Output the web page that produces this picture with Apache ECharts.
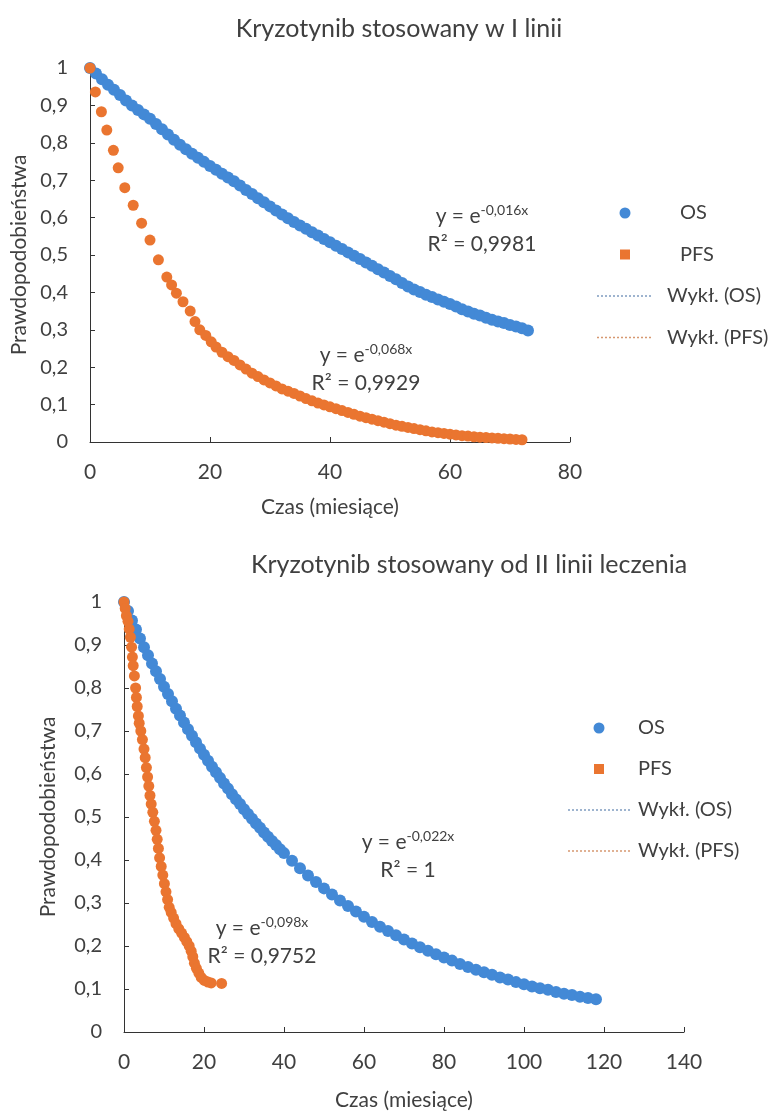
<!DOCTYPE html>
<html>
<head>
<meta charset="utf-8">
<script src="https://cdn.jsdelivr.net/npm/echarts@6/dist/echarts.min.js"></script>
<style>
  html, body { margin: 0; padding: 0; background: #fff; }
  #chart { width: 772px; height: 1113px; }
</style>
</head>
<body>
<div id="chart"></div>
<script>
// I linia - [miesiąc, prawdopodobieństwo]
var topOS = [
  [0, 1.000], [1, 0.985], [2, 0.970], [3, 0.955], [4, 0.942], [5, 0.928], [6, 0.913], [7, 0.900],
  [8, 0.888], [9, 0.876], [10, 0.864], [11, 0.850], [12, 0.836], [13, 0.822], [14, 0.808], [15, 0.795],
  [16, 0.783], [17, 0.771], [18, 0.760], [19, 0.749], [20, 0.738], [21, 0.728], [22, 0.717], [23, 0.707],
  [24, 0.697], [25, 0.686], [26, 0.674], [27, 0.663], [28, 0.652], [29, 0.641], [30, 0.630], [31, 0.619],
  [32, 0.608], [33, 0.598], [34, 0.588], [35, 0.579], [36, 0.570], [37, 0.561], [38, 0.552], [39, 0.543],
  [40, 0.534], [41, 0.525], [42, 0.516], [43, 0.507], [44, 0.498], [45, 0.489], [46, 0.480], [47, 0.471],
  [48, 0.462], [49, 0.453], [50, 0.444], [51, 0.435], [52, 0.425], [53, 0.416], [54, 0.408], [55, 0.401],
  [56, 0.394], [57, 0.388], [58, 0.381], [59, 0.375], [60, 0.369], [61, 0.362], [62, 0.355], [63, 0.349],
  [64, 0.343], [65, 0.338], [66, 0.332], [67, 0.327], [68, 0.322], [69, 0.318], [70, 0.313], [71, 0.309],
  [72, 0.304], [73, 0.298]
];
var topPFS = [
  [0, 1.000], [0.9, 0.936], [1.9, 0.883], [2.8, 0.834], [3.9, 0.780], [4.7, 0.733], [5.8, 0.680],
  [7.2, 0.633], [8.6, 0.585], [10, 0.540], [11.4, 0.487], [12.8, 0.441], [13.6, 0.420], [14.4, 0.398],
  [15.5, 0.375], [16.7, 0.350], [17.5, 0.322], [18.3, 0.300], [19.3, 0.285], [20.2, 0.268], [21, 0.254],
  [22, 0.240], [23, 0.228], [24, 0.218], [25, 0.206], [26, 0.195], [27, 0.184], [28, 0.175], [29, 0.166],
  [30, 0.158], [31, 0.150], [32, 0.142], [33, 0.136], [34, 0.130], [35, 0.123], [36, 0.116], [37, 0.110],
  [38, 0.104], [39, 0.099], [40, 0.094], [41, 0.089], [42, 0.084], [43, 0.079], [44, 0.074], [45, 0.069],
  [46, 0.065], [47, 0.061], [48, 0.057], [49, 0.053], [50, 0.049], [51, 0.045], [52, 0.042], [53, 0.039],
  [54, 0.036], [55, 0.033], [56, 0.030], [57, 0.027], [58, 0.025], [59, 0.023], [60, 0.021], [61, 0.019],
  [62, 0.017], [63, 0.016], [64, 0.014], [65, 0.013], [66, 0.012], [67, 0.011], [68, 0.010], [69, 0.009],
  [70, 0.008], [71, 0.007], [72, 0.006]
];

// od II linii
var botOS = [
  [0, 1.000], [1, 0.979], [2, 0.957], [3, 0.936], [4, 0.915], [5, 0.895], [6, 0.876], [7, 0.857],
  [8, 0.839], [9, 0.821], [10, 0.803], [11, 0.786], [12, 0.769], [13, 0.752], [14, 0.736], [15, 0.720],
  [16, 0.704], [17, 0.689], [18, 0.674], [19, 0.659], [20, 0.645], [21, 0.631], [22, 0.617], [23, 0.604],
  [24, 0.591], [25, 0.578], [26, 0.566], [27, 0.553], [28, 0.541], [29, 0.530], [30, 0.518], [31, 0.507],
  [32, 0.496], [33, 0.485], [34, 0.475], [35, 0.464], [36, 0.454], [37, 0.444], [38, 0.435], [39, 0.425],
  [40, 0.416], [42, 0.398], [44, 0.381], [46, 0.364], [48, 0.349], [50, 0.334], [52, 0.320], [54, 0.306],
  [56, 0.293], [58, 0.280], [60, 0.268], [62, 0.256], [64, 0.245], [66, 0.235], [68, 0.225], [70, 0.215],
  [72, 0.206], [74, 0.197], [76, 0.189], [78, 0.181], [80, 0.173], [82, 0.166], [84, 0.158], [86, 0.151],
  [88, 0.145], [90, 0.139], [92, 0.133], [94, 0.127], [96, 0.122], [98, 0.116], [100, 0.111], [102, 0.106],
  [104, 0.102], [106, 0.098], [108, 0.093], [110, 0.089], [112, 0.086], [114, 0.082], [116, 0.079],
  [118, 0.076]
];
var botPFS = [
  [0, 1.000], [0.3, 0.985], [0.6, 0.968], [1.0, 0.955], [1.3, 0.937], [1.6, 0.918], [1.9, 0.895],
  [2.1, 0.872], [2.3, 0.852], [2.6, 0.828], [2.9, 0.800], [3.1, 0.778], [3.3, 0.757], [3.6, 0.735],
  [3.8, 0.718], [4.2, 0.700], [4.6, 0.680], [5.0, 0.658], [5.3, 0.638], [5.6, 0.615], [5.9, 0.593],
  [6.2, 0.572], [6.5, 0.550], [6.8, 0.530], [7.2, 0.511], [7.6, 0.490], [8.0, 0.469], [8.3, 0.448],
  [8.6, 0.427], [8.9, 0.405], [9.3, 0.385], [9.7, 0.365], [10.1, 0.345], [10.5, 0.326], [10.9, 0.308],
  [11.3, 0.290], [11.8, 0.278], [12.4, 0.265], [13.0, 0.252], [13.7, 0.240], [14.4, 0.230], [15.1, 0.220],
  [15.7, 0.210], [16.3, 0.200], [16.8, 0.188], [17.2, 0.175], [17.6, 0.160], [18.1, 0.148], [18.7, 0.137],
  [19.3, 0.127], [20.1, 0.120], [21.0, 0.116], [21.8, 0.114], [24.4, 0.113]
];

var titles = ['Kryzotynib stosowany w I linii', 'Kryzotynib stosowany od II linii leczenia'];
var legendNames = ['OS', 'PFS', 'Wykł. (OS)', 'Wykł. (PFS)'];
var topEq = [['-0,016x', 'R² = 0,9981'], ['-0,068x', 'R² = 0,9929']];
var botEq = [['-0,022x', 'R² = 1'], ['-0,098x', 'R² = 0,9752']];

var FONT = 'Lato, "Open Sans", sans-serif';
var TXT = '#404040';
var BLUE = '#4389d6';
var ORANGE = '#ea7530';

function yFmt(v) {
  if (v === 0 || v === 1) return String(v);
  return v.toFixed(1).replace('.', ',');
}

// legend icons, all padded to the full icon box
function boxPath(w, h) {
  return 'path://M0,0L0,0M' + w + ',' + h + 'L' + w + ',' + h;
}
function dotsIcon(w, h) {
  var p = boxPath(w, h);
  for (var x = 0; x + 2 <= w; x += 4) p += 'M' + x + ',' + (h / 2 - 0.8) + 'h2v1.6h-2z';
  return p;
}
function squareIcon(w, h) {
  var s = h - 1, x0 = (w - s) / 2;
  return boxPath(w, h) + 'M' + x0 + ',0.5h' + s + 'v' + s + 'h-' + s + 'z';
}
function circleIcon(w, h) {
  var r = h / 2, x0 = w / 2 - r;
  return boxPath(w, h) + 'M' + x0 + ',' + r + 'a' + r + ',' + r + ' 0 1,0 ' + (2 * r) + ',0' +
    'a' + r + ',' + r + ' 0 1,0 ' + (-2 * r) + ',0z';
}

function xAxisCfg(idx, max, gap) {
  return {
    gridIndex: idx, type: 'value', min: 0, max: max, interval: 20,
    name: 'Czas (miesiące)', nameLocation: 'middle', nameGap: gap,
    nameTextStyle: { color: TXT, fontSize: 21, fontFamily: FONT },
    axisLine: { lineStyle: { color: '#333', width: 1 } },
    axisTick: { inside: true, length: 5, lineStyle: { color: '#333' } },
    axisLabel: { color: TXT, fontSize: 21, fontFamily: FONT, margin: 20 },
    splitLine: { show: false }
  };
}
function yAxisCfg(idx, gap) {
  return {
    gridIndex: idx, type: 'value', min: 0, max: 1, interval: 0.1,
    name: 'Prawdopodobieństwa', nameLocation: 'middle', nameGap: gap,
    nameTextStyle: { color: TXT, fontSize: 21, fontFamily: FONT },
    axisLine: { show: true, lineStyle: { color: '#333', width: 1 } },
    axisTick: { show: true, inside: true, length: 5, lineStyle: { color: '#333' } },
    axisLabel: { color: TXT, fontSize: 20, fontFamily: FONT, margin: 22, formatter: yFmt },
    splitLine: { show: false }
  };
}
function eqText(cx, cy, exp, r2) {
  return [
    {
      type: 'text', x: cx, y: cy,
      style: {
        text: '{a|y = e}{s|' + exp + '}', align: 'center', verticalAlign: 'middle',
        rich: {
          a: { fontSize: 21, fontFamily: FONT, fill: TXT, lineHeight: 26 },
          s: { fontSize: 14, fontFamily: FONT, fill: TXT, lineHeight: 14, verticalAlign: 'top' }
        }
      }
    },
    {
      type: 'text', x: cx, y: cy + 28,
      style: { text: r2, align: 'center', verticalAlign: 'middle', fontSize: 21, fontFamily: FONT, fill: TXT }
    }
  ];
}
// markPad: text padding for the marker rows (null = same as the rest)
function legendCfg(idx, left, top, w, gap, pad, markPad) {
  var suf = idx ? ' ' : '';
  var osItem = { name: legendNames[0] + suf, icon: circleIcon(w, 11) };
  var pfsItem = { name: legendNames[1] + suf, icon: squareIcon(w, 11) };
  if (markPad != null) {
    osItem.textStyle = { padding: [0, 0, 0, markPad] };
    pfsItem.textStyle = { padding: [0, 0, 0, markPad] };
  }
  return {
    left: left, top: top, orient: 'vertical', align: 'left', padding: 0,
    itemWidth: w, itemHeight: 11, itemGap: gap,
    textStyle: { color: TXT, fontSize: 20, fontFamily: FONT, lineHeight: 22, padding: [0, 0, 0, pad] },
    data: [
      osItem,
      pfsItem,
      { name: legendNames[2] + suf, icon: dotsIcon(w, 11) },
      { name: legendNames[3] + suf, icon: dotsIcon(w, 11) }
    ]
  };
}
function seriesFor(idx, os, pfs, osSize, pfsSize) {
  var suf = idx ? ' ' : '';
  return [
    { name: legendNames[0] + suf, type: 'scatter', xAxisIndex: idx, yAxisIndex: idx, data: os,
      symbol: 'circle', symbolSize: osSize, itemStyle: { color: BLUE, opacity: 1 } },
    { name: legendNames[1] + suf, type: 'scatter', xAxisIndex: idx, yAxisIndex: idx, data: pfs,
      symbol: 'circle', symbolSize: pfsSize, itemStyle: { color: ORANGE, opacity: 1 } },
    { name: legendNames[2] + suf, type: 'line', xAxisIndex: idx, yAxisIndex: idx, data: [],
      symbol: 'none', itemStyle: { color: '#7f9cc0' },
      lineStyle: { color: '#7f9cc0', type: 'dotted', width: 1.5 } },
    { name: legendNames[3] + suf, type: 'line', xAxisIndex: idx, yAxisIndex: idx, data: [],
      symbol: 'none', itemStyle: { color: '#d69870' },
      lineStyle: { color: '#d69870', type: 'dotted', width: 1.5 } }
  ];
}

var chart = echarts.init(document.getElementById('chart'), null, { renderer: 'canvas' });
chart.setOption({
  backgroundColor: '#fff',
  animation: false,
  title: [
    { text: titles[0], left: 394, top: 11, textAlign: 'center',
      textStyle: { color: TXT, fontSize: 25, fontWeight: 'normal', fontFamily: FONT } },
    { text: titles[1], left: 464, top: 547, textAlign: 'center',
      textStyle: { color: TXT, fontSize: 25, fontWeight: 'normal', fontFamily: FONT } }
  ],
  legend: [legendCfg(0, 597, 202, 56, 19.5, 9, 22), legendCfg(1, 568, 717, 62, 19, 3, null)],
  grid: [
    { left: 90, top: 68, width: 480, height: 374 },
    { left: 124, top: 602, width: 560, height: 430 }
  ],
  xAxis: [xAxisCfg(0, 80, 55), xAxisCfg(1, 140, 58)],
  yAxis: [yAxisCfg(0, 59), yAxisCfg(1, 65)],
  series: seriesFor(0, topOS, topPFS, 12, 11).concat(seriesFor(1, botOS, botPFS, 12, 11)),
  graphic: [].concat(
    eqText(482, 216, topEq[0][0], topEq[0][1]),
    eqText(366, 355, topEq[1][0], topEq[1][1]),
    eqText(408, 842, botEq[0][0], botEq[0][1]),
    eqText(262, 928, botEq[1][0], botEq[1][1])
  )
});
</script>
</body>
</html>
